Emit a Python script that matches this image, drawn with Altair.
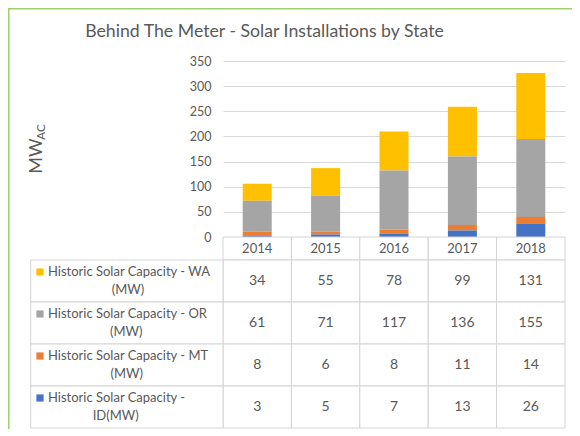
import altair as alt
import pandas as pd

# ---------------- data ----------------
title_text = "Behind The Meter - Solar Installations by State"
years = ["2014", "2015", "2016", "2017", "2018"]
series_keys = ["WA", "OR", "MT", "ID"]          # table order, top to bottom
label_line1 = ["Historic Solar Capacity - WA",
               "Historic Solar Capacity - OR",
               "Historic Solar Capacity - MT",
               "Historic Solar Capacity -"]
label_line2 = ["(MW)", "(MW)", "(MW)", "ID(MW)"]
wa_values = [34, 55, 78, 99, 131]
or_values = [61, 71, 117, 136, 155]
mt_values = [8, 6, 8, 11, 14]
id_values = [3, 5, 7, 13, 26]
series_colors = ["#FFC000", "#A5A5A5", "#ED7D31", "#4472C4"]
stack_order = [3, 2, 1, 0]                      # ID at the bottom of each bar
y_ticks = [0, 50, 100, 150, 200, 250, 300, 350]

# ---------------- layout ----------------
W, H = 342, 176
PAD = {"left": 215, "top": 53, "right": 7, "bottom": 192}
HEADER_BOTTOM = H + 23
TABLE_BOTTOM = 367
LABEL_LEFT = -192.3
TEXT_LEFT = -175
LABEL_FS = 13
LINE_H = 18
FONT = "Lato"
TXT = "#595959"
GRID = "#D9D9D9"
CELL = "#D4D4D4"

# rough Lato advance widths (em) used to centre the second label line under the first
EM = {" ": .20, "-": .35, "H": .75, "i": .25, "s": .40, "t": .34, "o": .56, "r": .36,
      "c": .48, "S": .53, "l": .25, "a": .51, "C": .69, "p": .56, "y": .51, "W": 1.0,
      "A": .70, "O": .80, "R": .62, "M": .90, "T": .60, "I": .28, "D": .77, "(": .29,
      ")": .29}


def text_width(s, fs):
    return sum(EM.get(ch, .55) for ch in s) * fs


values = [wa_values, or_values, mt_values, id_values]
rows = []
for k, key in enumerate(series_keys):
    for i, yr in enumerate(years):
        rows.append({"year": yr, "series": key, "value": values[k][i],
                     "ord": stack_order[k]})
df = pd.DataFrame(rows)

lab = pd.DataFrame({"series": series_keys, "l1": label_line1, "l2": label_line2})
yr_df = pd.DataFrame({"year": years})
one = pd.DataFrame({"a": [0]})


def row_scale(shift):
    return alt.Y("series:N", scale=alt.Scale(domain=series_keys,
                                             range=[HEADER_BOTTOM + shift, TABLE_BOTTOM + shift],
                                             paddingInner=0, paddingOuter=0), axis=None)


x_year = alt.X("year:N", scale=alt.Scale(domain=years, paddingInner=0, paddingOuter=0), axis=None)
y_row = row_scale(0)
y_line1 = row_scale(-LINE_H / 2)
y_line2 = row_scale(LINE_H / 2)
color = alt.Color("series:N", scale=alt.Scale(domain=series_keys, range=series_colors), legend=None)

bars = alt.Chart(df).mark_bar(width=alt.RelativeBandSize(0.424)).encode(
    x=x_year,
    y=alt.Y("value:Q", stack="zero", scale=alt.Scale(domain=[0, 350], nice=False),
            axis=alt.Axis(values=y_ticks, grid=True, gridColor=GRID, domain=False, ticks=False,
                          labelPadding=12, labelFontSize=12.5, labelColor=TXT, labelFont=FONT,
                          title=None)),
    color=color,
    order=alt.Order("ord:Q"),
)

# table: header cells
head_cells = alt.Chart(yr_df).mark_rect(fill="white", stroke=CELL, strokeWidth=1).encode(
    x=x_year, y=alt.value(H), y2=alt.value(HEADER_BOTTOM))
head_text = alt.Chart(yr_df).mark_text(font=FONT, fontSize=13, color=TXT, baseline="middle").encode(
    x=x_year, y=alt.value((H + HEADER_BOTTOM) / 2), text="year:N")

# value cells
val_cells = alt.Chart(df).mark_rect(fill="white", stroke=CELL, strokeWidth=1).encode(
    x=x_year, y=y_row)
val_text = alt.Chart(df).mark_text(font=FONT, fontSize=14, color=TXT, baseline="middle").encode(
    x=x_year, y=y_row, text="value:Q")

# label column
lab_cells = alt.Chart(lab).mark_rect(fill="white", stroke=CELL, strokeWidth=1).encode(
    x=alt.value(LABEL_LEFT), x2=alt.value(0), y=y_row)
swatch = alt.Chart(lab).mark_square(size=52, opacity=1).encode(
    x=alt.value(-183), y=y_line1, color=color)
lab1 = alt.Chart(lab).mark_text(font=FONT, fontSize=LABEL_FS, color=TXT, align="left",
                                baseline="middle").encode(
    x=alt.value(TEXT_LEFT), y=y_line1, text="l1:N")
lab2_layers = []
for k in range(len(series_keys)):
    left2 = TEXT_LEFT + (text_width(label_line1[k], LABEL_FS) - text_width(label_line2[k], LABEL_FS)) / 2
    lab2_layers.append(
        alt.Chart(lab.iloc[[k]]).mark_text(font=FONT, fontSize=LABEL_FS, color=TXT, align="left",
                                           baseline="middle").encode(
            x=alt.value(left2), y=y_line2, text="l2:N"))

# titles
title = alt.Chart(one).mark_text(text=title_text, font=FONT, fontSize=17.7, color=TXT,
                                 baseline="middle").encode(x=alt.value(41.5), y=alt.value(-29.5))
ytitle = alt.Chart(one).mark_text(text="MW", font=FONT, fontSize=18, color=TXT, angle=270,
                                  baseline="middle").encode(x=alt.value(-186.5), y=alt.value(95))
ysub = alt.Chart(one).mark_text(text="AC", font=FONT, fontSize=11.5, color=TXT, angle=270,
                                baseline="middle").encode(x=alt.value(-181.5), y=alt.value(71))

# outer green frame (left and top edges)
frame_l = alt.Chart(one).mark_rule(color="#9FD06E", strokeWidth=1.5).encode(
    x=alt.value(-PAD["left"] + 0.75), y=alt.value(-PAD["top"]), y2=alt.value(H + PAD["bottom"]))
frame_t = alt.Chart(one).mark_rule(color="#9FD06E", strokeWidth=1.5).encode(
    y=alt.value(-PAD["top"] + 0.75), x=alt.value(-PAD["left"]), x2=alt.value(W + PAD["right"]))

chart = alt.layer(
    bars, head_cells, head_text, val_cells, val_text, lab_cells, swatch, lab1, *lab2_layers,
    title, ytitle, ysub, frame_l, frame_t,
).resolve_scale(y="independent").properties(
    width=W, height=H, padding=PAD, autosize="none",
).configure_view(stroke=None)

chart.save("out.html", embed_options={"renderer": "svg", "actions": False})
